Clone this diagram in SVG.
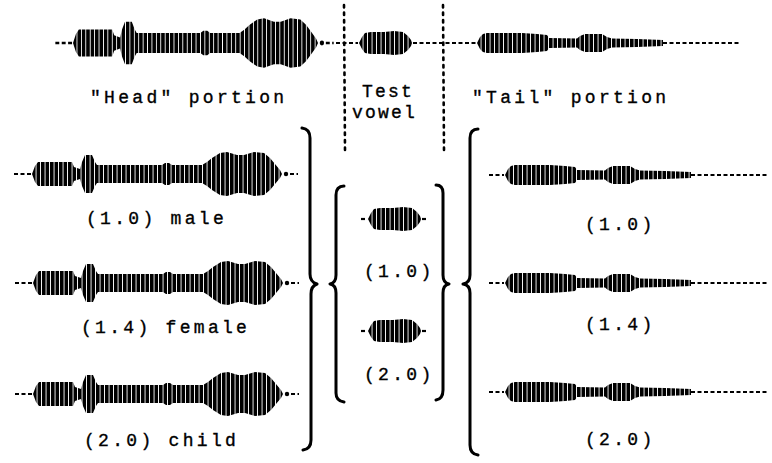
<svg xmlns="http://www.w3.org/2000/svg" xmlns:xlink="http://www.w3.org/1999/xlink" width="772" height="463" viewBox="0 0 772 463">
<style>
.t{font-family:"Liberation Mono","Courier New",monospace;font-size:18px;letter-spacing:3.3px;fill:#000;stroke:#000;stroke-width:0.35px}
.tv{letter-spacing:2.2px}
.dash{stroke:#000;stroke-width:2.2;stroke-dasharray:4 2.5;fill:none}
.dot{stroke:#000;stroke-width:2.6;stroke-dasharray:2.5 5;stroke-linecap:round;fill:none}
.brace{stroke:#000;stroke-width:3;fill:none;stroke-linecap:round;stroke-linejoin:round}
.env{fill:url(#bars)}
</style>
<defs>
<pattern id="bars" width="4.5" height="10" patternUnits="userSpaceOnUse"><rect x="0" y="0" width="3.6" height="10" fill="#000"/></pattern>
<symbol id="head" overflow="visible">
<line class="dash" x1="-18" y1="0" x2="-1" y2="0"/>
<path class="env" d="M0,0 L3,-8 L6,-12 L40,-12 L42,-7 L48,-5 L50,-12 L53,-19 L60,-19 L63,-12 L65,-9 L130,-9 L133,-11 L137,-11 L140,-9 L170,-9 L175,-12 L180,-16 L188,-21 L195,-22 L205,-19 L212,-19 L222,-22 L232,-21 L238,-16 L243,-10 L248,-4 L250,0 L248,4 L243,10 L238,16 L232,21 L222,22 L212,19 L205,19 L195,22 L188,21 L180,16 L175,12 L170,9 L140,9 L137,11 L133,11 L130,9 L65,9 L63,12 L60,19 L53,19 L50,12 L48,5 L42,7 L40,12 L6,12 L3,8 Z"/>
<circle cx="254" cy="0" r="2.2" fill="#000"/>
<line class="dash" x1="258" y1="0" x2="266" y2="0"/>
</symbol>
<symbol id="vowel" overflow="visible">
<path class="env" d="M0,0 L3,-6 L6,-10 L12,-11 L25,-11 L35,-12 L44,-11 L49,-7 L52,-3 L53,0 L52,3 L49,7 L44,11 L35,12 L25,11 L12,11 L6,10 L3,6 Z"/>
</symbol>
<symbol id="tail" overflow="visible">
<path class="env" d="M0,0 L3,-6 L6,-9 L10,-10 L45,-10 L60,-9 L70,-8 L72,-5 L100,-4.5 L103,-7 L108,-9 L125,-9 L130,-6 L135,-4.5 L160,-4 L186,-3 L186,3 L160,4 L135,4.5 L130,6 L125,9 L108,9 L103,7 L100,4.5 L72,5 L70,8 L60,9 L45,10 L10,10 L6,9 L3,6 Z"/>
<line class="dash" x1="186" y1="0" x2="264" y2="0" stroke-dasharray="5 3"/>
</symbol>
</defs>

<g id="top-utterance">
<use xlink:href="#head" transform="translate(73,43) scale(0.98,1.12)"/>
<line class="dash" x1="336" y1="43" x2="358" y2="43"/>
<use xlink:href="#vowel" transform="translate(359,43)"/>
<line class="dash" x1="413" y1="43" x2="476" y2="43"/>
<use xlink:href="#tail" transform="translate(477,43)"/>
</g>

<g id="labels">
<text class="t" x="90" y="103">"Head" portion</text>
<text class="t tv" x="362" y="97">Test</text>
<text class="t tv" x="352" y="118">vowel</text>
<text class="t" x="472" y="103">"Tail" portion</text>
</g>

<g id="head-male">
<use xlink:href="#head" transform="translate(32,174)"/>
<text class="t" x="86" y="224">(1.0) male</text>
</g>
<g id="head-female">
<use xlink:href="#head" transform="translate(33,283)"/>
<text class="t" x="81" y="333">(1.4) female</text>
</g>
<g id="head-child">
<use xlink:href="#head" transform="translate(33,394)"/>
<text class="t" x="84" y="446">(2.0) child</text>
</g>

<g id="vowel-1">
<line class="dash" x1="361" y1="219" x2="367" y2="219"/>
<use xlink:href="#vowel" transform="translate(368,219)"/>
<line class="dash" x1="422" y1="219" x2="427" y2="219"/>
<text class="t" x="364" y="277">(1.0)</text>
</g>
<g id="vowel-2">
<line class="dash" x1="361" y1="331" x2="367" y2="331"/>
<use xlink:href="#vowel" transform="translate(368,331)"/>
<line class="dash" x1="422" y1="331" x2="427" y2="331"/>
<text class="t" x="364" y="380">(2.0)</text>
</g>

<g id="tail-1">
<line class="dash" x1="489" y1="175" x2="504" y2="175"/>
<use xlink:href="#tail" transform="translate(505,175)"/>
<text class="t" x="585" y="230">(1.0)</text>
</g>
<g id="tail-2">
<line class="dash" x1="489" y1="283" x2="504" y2="283"/>
<use xlink:href="#tail" transform="translate(505,283)"/>
<text class="t" x="585" y="330">(1.4)</text>
</g>
<g id="tail-3">
<line class="dash" x1="489" y1="392" x2="504" y2="392"/>
<use xlink:href="#tail" transform="translate(505,392)"/>
<text class="t" x="585" y="445">(2.0)</text>
</g>

<g id="connectors">
<line class="dot" x1="344" y1="5" x2="345" y2="150"/>
<line class="dot" x1="443" y1="5" x2="444" y2="150"/>
<path class="brace" d="M302,128 Q310,129 310,138 L310,274 Q310,282 317,284 Q311,286 311,294 L311,440 Q311,449 303,450"/>
<path class="brace" d="M344,186 Q336,186 336,195 L336,275 Q336,283 330,284 Q336,285 336,293 L336,393 Q336,401 344,402"/>
<path class="brace" d="M436,185 Q443,185 443,193 L443,275 Q443,283 449,284 Q443,285 443,293 L443,390 Q443,399 436,400"/>
<path class="brace" d="M478,129 Q470,129 470,138 L470,275 Q470,283 463,284 Q470,285 470,293 L470,445 Q470,454 478,455"/>
</g>
</svg>
